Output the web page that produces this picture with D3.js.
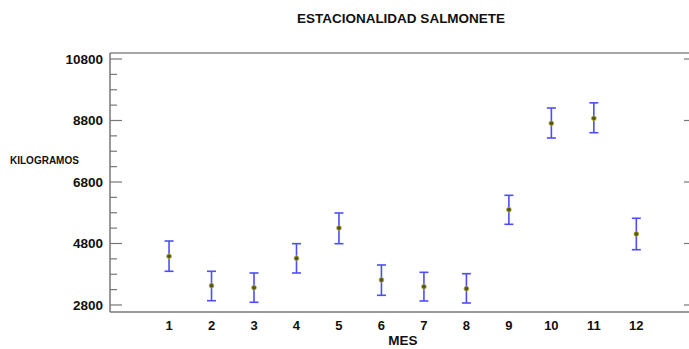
<!DOCTYPE html>
<html>
<head>
<meta charset="utf-8">
<script src="https://cdn.jsdelivr.net/npm/d3@7"></script>
<style>
  body { margin: 0; background: #fff; }
  svg { display: block; font-family: "Liberation Sans", Arial, sans-serif; }
</style>
</head>
<body>
<div id="chart"></div>
<script>
// data (kilograms by month)
var months = [1, 2, 3, 4, 5, 6, 7, 8, 9, 10, 11, 12];
var means  = [4384, 3428, 3363, 4319, 5304, 3613, 3395, 3330, 5899, 8709, 8872, 5109];
var lower  = [3896, 2940, 2888, 3841, 4794, 3115, 2930, 2865, 5424, 8231, 8403, 4598];
var upper  = [4881, 3896, 3841, 4794, 5792, 4101, 3863, 3818, 6367, 9206, 9374, 5620];
var yTicks = [2800, 4800, 6800, 8800, 10800];

var W = 689, H = 349;
var margin = {top: 53, right: 0, bottom: 37, left: 110},
    width = W - margin.left - margin.right,
    height = H - margin.top - margin.bottom;

var svg = d3.select('#chart')
    .append('svg')
    .attr('width', W)
    .attr('height', H);

var g = svg.append('g')
    .attr('transform', `translate(${margin.left}, ${margin.top})`);

var x = d3.scaleLinear()
    .domain([-0.39, 13.24])
    .range([0, width]);

var y = d3.scaleLinear()
    .domain([2572, 10995])
    .range([height, 0]);

// frame lines
g.append('line')
    .attr('x1', 0).attr('x2', width)
    .attr('y1', 0).attr('y2', 0)
    .style('stroke', '#888').style('stroke-width', 1.5);
g.append('line')
    .attr('x1', 0).attr('x2', width)
    .attr('y1', height).attr('y2', height)
    .style('stroke', '#999').style('stroke-width', 2);
g.append('line')
    .attr('x1', 0).attr('x2', 0)
    .attr('y1', 0).attr('y2', height)
    .style('stroke', '#777').style('stroke-width', 1.5);

// left axis: major + minor ticks pointing inward
var minor = d3.range(2800, 10801, 500).filter(function(v) { return (v - 2800) % 2000 !== 0; });
g.selectAll('.minor')
    .data(minor)
    .enter()
    .append('line')
    .attr('x1', 0).attr('x2', 7)
    .attr('y1', function(d) { return y(d) }).attr('y2', function(d) { return y(d) })
    .style('stroke', '#777').style('stroke-width', 1.2);

g.selectAll('.major')
    .data(yTicks)
    .enter()
    .append('line')
    .attr('x1', 0).attr('x2', 12)
    .attr('y1', function(d) { return y(d) }).attr('y2', function(d) { return y(d) })
    .style('stroke', '#777').style('stroke-width', 1.2);

// right side ticks
g.selectAll('.rmajor')
    .data(yTicks)
    .enter()
    .append('line')
    .attr('x1', width - 5).attr('x2', width)
    .attr('y1', function(d) { return y(d) }).attr('y2', function(d) { return y(d) })
    .style('stroke', '#777').style('stroke-width', 1.2);

g.selectAll('.ylab')
    .data(yTicks)
    .enter()
    .append('text')
    .attr('x', -7)
    .attr('y', function(d) { return y(d) })
    .attr('dy', '0.35em')
    .attr('text-anchor', 'end')
    .style('font-size', '13.5px')
    .style('font-weight', 'bold')
    .style('fill', '#111')
    .text(function(d) { return d });

g.selectAll('.xlab')
    .data(months)
    .enter()
    .append('text')
    .attr('x', function(d) { return x(d) })
    .attr('y', height + 18)
    .attr('text-anchor', 'middle')
    .style('font-size', '13px')
    .style('font-weight', 'bold')
    .style('fill', '#111')
    .text(function(d) { return d });

// error bars
var bars = g.selectAll('.bar')
    .data(months)
    .enter()
    .append('g')
    .style('stroke', '#4d4dff')
    .style('stroke-width', 1.6);

bars.append('line')
    .attr('x1', function(d) { return x(d) }).attr('x2', function(d) { return x(d) })
    .attr('y1', function(d, i) { return y(upper[i]) })
    .attr('y2', function(d, i) { return y(lower[i]) });
bars.append('line')
    .attr('x1', function(d) { return x(d) - 4.5 }).attr('x2', function(d) { return x(d) + 4.5 })
    .attr('y1', function(d, i) { return y(upper[i]) })
    .attr('y2', function(d, i) { return y(upper[i]) });
bars.append('line')
    .attr('x1', function(d) { return x(d) - 4.5 }).attr('x2', function(d) { return x(d) + 4.5 })
    .attr('y1', function(d, i) { return y(lower[i]) })
    .attr('y2', function(d, i) { return y(lower[i]) });

g.selectAll('.pt')
    .data(months)
    .enter()
    .append('circle')
    .attr('cx', function(d) { return x(d) })
    .attr('cy', function(d, i) { return y(means[i]) })
    .attr('r', 2.4)
    .style('fill', '#55551c')
    .style('stroke', '#b5b54a')
    .style('stroke-width', 0.8);

// titles
svg.append('text')
    .attr('x', 401)
    .attr('y', 23)
    .attr('text-anchor', 'middle')
    .style('font-size', '13.5px')
    .style('font-weight', 'bold')
    .style('fill', '#111')
    .text('ESTACIONALIDAD SALMONETE');

svg.append('text')
    .attr('x', 10)
    .attr('y', 164)
    .style('font-size', '10px')
    .style('font-weight', 'bold')
    .style('fill', '#111')
    .text('KILOGRAMOS');

svg.append('text')
    .attr('x', 403)
    .attr('y', 345)
    .attr('text-anchor', 'middle')
    .style('font-size', '13.5px')
    .style('font-weight', 'bold')
    .style('fill', '#111')
    .text('MES');
</script>
</body>
</html>
